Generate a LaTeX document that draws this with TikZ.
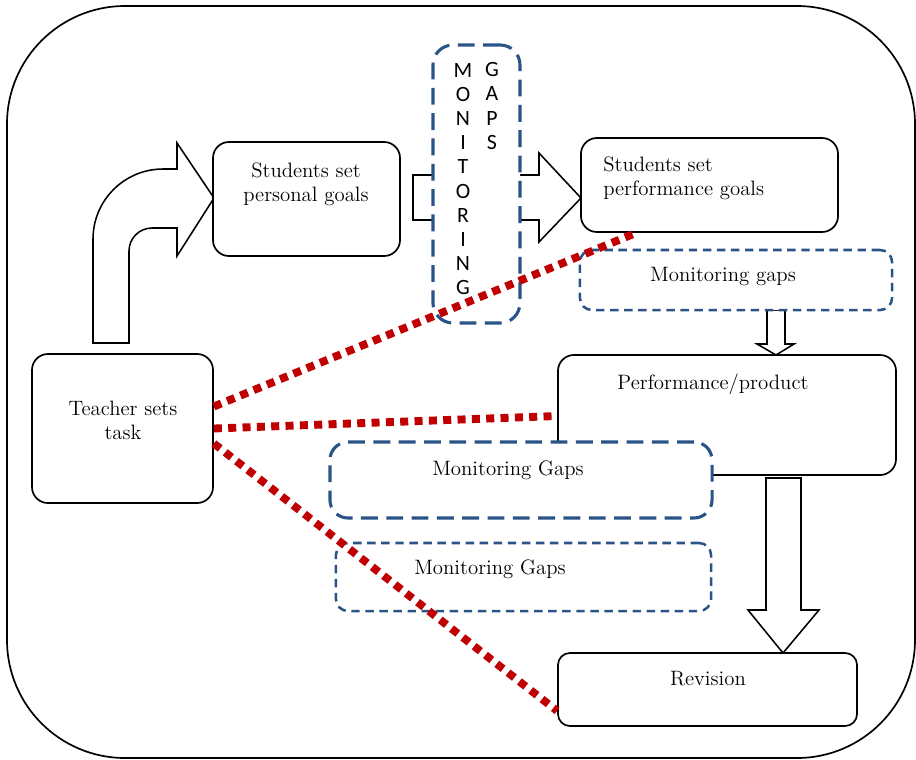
\documentclass[tikz,border=0pt]{standalone}
\usepackage{fontspec}
\newfontfamily\calfont{Carlito}
\usepackage{tikz}
\usepackage{xcolor}
\usetikzlibrary{
    calc,
    positioning
}
\definecolor{gapblue}{HTML}{2A5487}
\definecolor{dotred}{HTML}{C00000}

\begin{document}
\begin{tikzpicture}[x=0.025cm, y=-0.025cm,
        box/.style={draw, line width=1.2pt, rounded corners=0.4cm, fill=white, inner sep=0pt},
        gapshort/.style={draw=gapblue, line width=1.8pt, dash pattern=on 6pt off 4pt, rounded corners=0.3cm, fill=white, inner sep=0pt},
        gaplong/.style={draw=gapblue, line width=2.2pt, dash pattern=on 12pt off 6pt, rounded corners=0.45cm, fill=white, inner sep=0pt},
        blockarrow/.style={draw, line width=1.1pt, fill=white, line join=miter},
        txt/.style={font=\fontsize{14.8}{17}\selectfont, align=center, inner sep=0pt},
        letters/.style={font=\calfont\fontsize{15.5}{17.2}\selectfont, align=center, inner sep=0pt},
        reddots/.style={draw=dotred, line width=5.6pt, dash pattern=on 5.7pt off 4.5pt}
    ]
                        \useasboundingbox (0,0) rectangle (916,759);
                        \draw[line width=1.2pt, rounded corners=2.95cm] (7,6) rectangle (915,758);

                        % bent arrow and arrow through the vertical box
                        \draw[blockarrow] (129,343) -- (93,343) -- (93,239)
                            .. controls (93,200.4) and (124.4,169) .. (163,169)
                            -- (177,169) -- (177,143) -- (214,198) -- (177,256) -- (177,228) -- (152,228)
                            .. controls (139.3,228) and (129,238.3) .. (129,251) -- cycle;
                        \draw[blockarrow] (413,175) -- (539,175) -- (539,153) -- (581,198) -- (539,242) -- (539,220) -- (413,220) -- cycle;

                        \node[box, minimum width=4.525cm, minimum height=3.725cm] (teacher) at (122.5,428.5) {};
                        \node[box, minimum width=4.675cm, minimum height=2.85cm] (personal) at (306.5,199) {};
                        \node[box, minimum width=6.425cm, minimum height=2.35cm] (perfgoals) at (709.5,185) {};
                        \node[gaplong, minimum width=2.175cm, minimum height=6.95cm, rounded corners=0.5cm] (vgaps) at (476.5,184) {};
                        \node[letters] (montxt) at (463,179) {M\\O\\N\\I\\T\\O\\R\\I\\N\\G};
                        \node[letters] (gapstxt) at (492,106) {G\\A\\P\\S};

                        \draw[blockarrow] (767,310) -- (785,310) -- (785,344) -- (794,344) -- (776,355) -- (757,344) -- (767,344) -- cycle;
                        \node[gapshort, minimum width=7.8cm, minimum height=1.5cm] (gapsR) at (736,280) {};
                        \node[box, minimum width=8.45cm, minimum height=3cm] (perf) at (727,415) {};
                        \node[gaplong, minimum width=9.55cm, minimum height=1.9cm] (gapsA) at (521,480) {};
                        \node[gapshort, minimum width=9.375cm, minimum height=1.7cm] (gapsB) at (523.5,577) {};
                        \draw[blockarrow] (766,478) -- (801,478) -- (801,610) -- (819,610) -- (783,653) -- (748,610) -- (766,610) -- cycle;
                        \node[box, minimum width=7.475cm, minimum height=1.825cm, rounded corners=0.3cm] (revision) at (707.5,689.5) {};

                        \node[txt] (teachertxt) at (123,420) {Teacher sets\\task};
                        \node[txt] (personaltxt) at (306,184) {Students set\\personal goals};
                        \node[txt, align=left, anchor=west] (perfgoalstxt) at (603,178) {Students set\\performance goals};
                        \node[txt] (gapsRtxt) at (723,277) {Monitoring gaps};
                        \node[txt] (perftxt) at (713,384) {Performance/product};
                        \node[txt] (gapsAtxt) at (508,470) {Monitoring Gaps};
                        \node[txt] (gapsBtxt) at (490,569) {Monitoring Gaps};
                        \node[txt] (revisiontxt) at (708,679) {Revision};

                        % dotted links from the task
                        \draw[reddots]
                        ($(teacher.east)+(0,-22)$) -- ($(perfgoals.south west)+(56,0)$)
                        ($(teacher.east)+(0,0)$) -- ($(perf.west)+(0,1)$)
                        ($(teacher.east)+(0,15)$) -- ($(revision.south west)+(0,-16)$);
                    \end{tikzpicture}
\end{document}
